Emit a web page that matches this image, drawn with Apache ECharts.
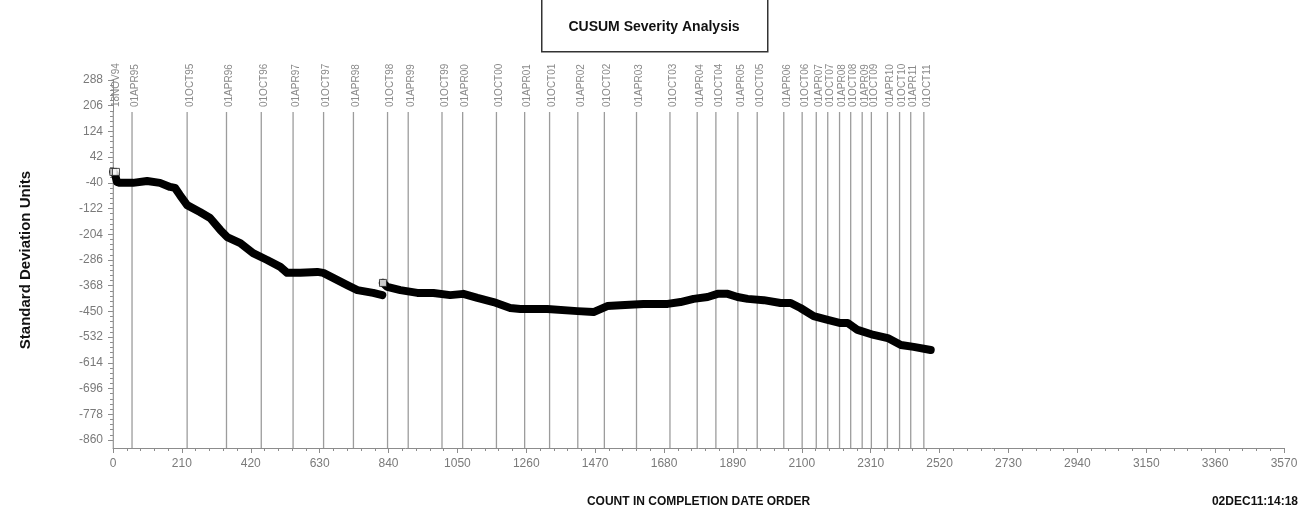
<!DOCTYPE html>
<html>
<head>
<meta charset="utf-8">
<title>CUSUM Severity Analysis</title>
<script src="https://cdn.jsdelivr.net/npm/echarts@6.0.0/dist/echarts.min.js"></script>
<style>
  html, body { margin: 0; padding: 0; background: #fff; }
  #main { width: 1307px; height: 517px; }
</style>
</head>
<body>
<div id="main"></div>
<script>
// cusum curve (count, standard deviation units)
var seg1Counts = [1, 6, 12, 21, 61, 104, 143, 174, 189, 204, 226, 265, 296, 327, 348, 388, 427, 470, 510, 531,
  571, 623, 641, 671, 714, 745, 793, 821];
var seg1Values = [-5, -12, -37, -40, -40, -34, -40, -53, -56, -79, -111, -133, -152, -190, -213, -232, -264, -286, -308, -327,
  -327, -324, -327, -343, -366, -382, -391, -398];

var seg2Counts = [823, 836, 876, 928, 977, 1028, 1068, 1111, 1160, 1211, 1242, 1324, 1416, 1465, 1507, 1547, 1617, 1691, 1730, 1770,
  1813, 1843, 1874, 1904, 1935, 1984, 2035, 2066, 2096, 2136, 2179, 2218, 2240, 2270, 2319, 2362, 2402, 2441, 2493];
var seg2Values = [-359, -372, -382, -391, -391, -398, -394, -407, -420, -439, -442, -442, -449, -452, -433, -430, -426, -426, -420, -410,
  -404, -394, -394, -404, -410, -414, -423, -423, -439, -465, -477, -487, -487, -509, -525, -535, -557, -563, -573];

// hollow square markers that show through the band
var markerCounts = [1, 9, 823];
var markerValues = [-5, -5, -359];

// reference dates along the count axis
var dateLabels = ['18NOV94', '01APR95', '01OCT95', '01APR96', '01OCT96', '01APR97', '01OCT97', '01APR98', '01OCT98', '01APR99',
  '01OCT99', '01APR00', '01OCT00', '01APR01', '01OCT01', '01APR02', '01OCT02', '01APR03', '01OCT03', '01APR04',
  '01OCT04', '01APR05', '01OCT05', '01APR06', '01OCT06', '01APR07', '01OCT07', '01APR08', '01OCT08', '01APR09',
  '01OCT09', '01APR10', '01OCT10', '01APR11', '01OCT11'];
var dateCounts = [1, 58, 226, 346, 452, 549, 642, 733, 837, 900, 1003, 1066, 1169, 1255, 1331, 1417, 1498, 1596, 1698, 1781,
  1838, 1905, 1964, 2045, 2101, 2144, 2179, 2215, 2249, 2284, 2312, 2361, 2398, 2432, 2472];

// axes
var xMin = 0, xMax = 3570, xStep = 210;
var yMin = -860, yMax = 288, yStep = 82;

function pairs(xs, ys) {
  var out = [];
  for (var i = 0; i < xs.length; i++) out.push([xs[i], ys[i]]);
  return out;
}

var myChart = echarts.init(document.getElementById('main'));

var axisGray = '#8c8c8c';
var labelGray = '#7a7a7a';

var option = {
  animation: false,
  backgroundColor: '#fff',
  grid: { left: 113, right: 23, top: 80, bottom: 77, containLabel: false, outerBoundsMode: 'none' },
  graphic: [
    { type: 'rect', left: 541, top: -2, shape: { width: 226, height: 53 },
      style: { fill: '#fff', stroke: '#333', lineWidth: 1.5 } },
    { type: 'text', x: 654, y: 27,
      style: { text: 'CUSUM Severity Analysis', fill: '#111', font: 'bold 14px "Liberation Sans", Arial, sans-serif',
        align: 'center', verticalAlign: 'middle' } },
    { type: 'text', x: 1298, y: 502,
      style: { text: '02DEC11:14:18', fill: '#111', font: 'bold 12px "Liberation Sans", Arial, sans-serif',
        align: 'right', verticalAlign: 'middle' } }
  ],
  xAxis: {
    type: 'value', min: xMin, max: xMax, interval: xStep, offset: 8,
    name: 'COUNT IN COMPLETION DATE ORDER', nameLocation: 'middle', nameGap: 48,
    nameTextStyle: { color: '#111', fontWeight: 'bold', fontSize: 12, fontFamily: 'Liberation Sans' },
    axisLine: { show: true, onZero: false, lineStyle: { color: axisGray, width: 1 } },
    axisTick: { show: true, length: 5, lineStyle: { color: axisGray } },
    minorTick: { show: true, splitNumber: 5, length: 3, lineStyle: { color: axisGray } },
    axisLabel: { color: labelGray, fontSize: 12, fontFamily: 'Liberation Sans', margin: 10,
      formatter: function (v) { return String(v); } },
    splitLine: { show: false }
  },
  yAxis: {
    type: 'value', min: yMin, max: yMax, interval: yStep,
    name: 'Standard Deviation Units', nameLocation: 'middle', nameGap: 80,
    nameTextStyle: { color: '#111', fontWeight: 'bold', fontSize: 15, fontFamily: 'Liberation Sans' },
    axisLine: { show: true, onZero: false, lineStyle: { color: axisGray, width: 1 } },
    axisTick: { show: true, length: 5, lineStyle: { color: axisGray } },
    minorTick: { show: true, splitNumber: 5, length: 3, lineStyle: { color: axisGray } },
    axisLabel: { color: labelGray, fontSize: 12, fontFamily: 'Liberation Sans', margin: 10,
      formatter: function (v) { return String(v); } },
    splitLine: { show: false }
  },
  series: [
    {
      // vertical date reference lines with rotated labels above them
      type: 'custom',
      name: 'dates',
      clip: false,
      silent: true,
      z: 1,
      data: dateCounts.map(function (c) { return [c, yMin]; }),
      renderItem: function (params, api) {
        var top = api.coord([api.value(0), yMax]);
        var bottom = api.coord([api.value(0), yMin]);
        return {
          type: 'group',
          children: [
            { type: 'line', shape: { x1: top[0], y1: top[1] + 32, x2: top[0], y2: bottom[1] + 8 },
              style: { stroke: '#9c9c9c', lineWidth: 1.3 } },
            { type: 'text', x: top[0] + 3, y: top[1] + 27, rotation: Math.PI / 2,
              style: { text: dateLabels[params.dataIndex], fill: '#8a8a8a',
                font: '10px "Liberation Sans", Arial, sans-serif', align: 'left', verticalAlign: 'middle' } }
          ]
        };
      }
    },
    {
      type: 'line', name: 'cusum', z: 3,
      data: pairs(seg1Counts, seg1Values),
      showSymbol: false, symbol: 'none',
      lineStyle: { color: '#000', width: 8, cap: 'round', join: 'round' }
    },
    {
      type: 'line', name: 'cusum2', z: 3,
      data: pairs(seg2Counts, seg2Values),
      showSymbol: false, symbol: 'none',
      lineStyle: { color: '#000', width: 8, cap: 'round', join: 'round' }
    },
    {
      type: 'scatter', name: 'markers', z: 4,
      data: pairs(markerCounts, markerValues),
      symbol: 'rect', symbolSize: 7,
      itemStyle: { color: '#fff', borderColor: '#222', borderWidth: 1 }
    }
  ]
};
myChart.setOption(option);
</script>
</body>
</html>
